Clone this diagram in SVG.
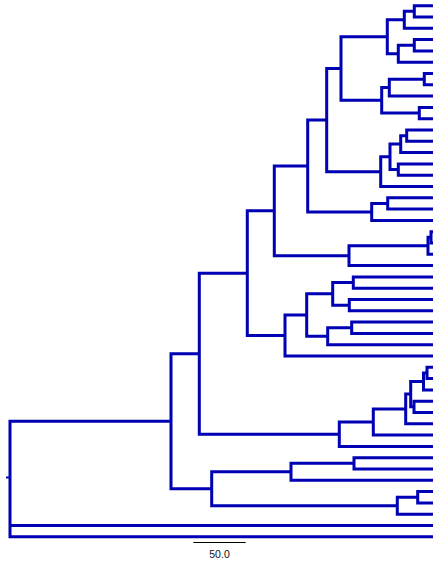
<svg xmlns="http://www.w3.org/2000/svg" width="439" height="567" viewBox="0 0 439 567">
<style>
.b{fill:none;stroke:#0000b4;stroke-width:3;stroke-linejoin:miter}
.s{stroke:#000;stroke-width:1;fill:none}
.t{font-family:"Liberation Sans",Arial,sans-serif;font-size:10.5px;fill:#111}
</style>
<rect width="439" height="567" fill="#fff"/>
<g id="connectors">
<path class="b" d="M433,5.7H414.3V17H433"/>
<path class="b" d="M414.3,11.35H404.3V28.3H433"/>
<path class="b" d="M433,39.6H414.3V50.9H433"/>
<path class="b" d="M414.3,45.25H398.3V62.2H433"/>
<path class="b" d="M404.3,19.8H387.3V53.7H398.3"/>
<path class="b" d="M433,73.5H424.3V84.8H433"/>
<path class="b" d="M424.3,79.15H389.3V96.1H433"/>
<path class="b" d="M433,107.4H419.3V118.7H433"/>
<path class="b" d="M389.3,87.6H381.7V113.05H419.3"/>
<path class="b" d="M387.3,36.75H341V100.3H381.7"/>
<path class="b" d="M433,130H406.7V141.3H433"/>
<path class="b" d="M406.7,135.65H400.7V152.6H433"/>
<path class="b" d="M433,163.9H398.3V175.2H433"/>
<path class="b" d="M400.7,144.1H390V169.55H398.3"/>
<path class="b" d="M390,156.8H380.7V186.5H433"/>
<path class="b" d="M341,68.5H326.7V171.65H380.7"/>
<path class="b" d="M433,197.8H387.7V209.1H433"/>
<path class="b" d="M387.7,203.45H371.7V220.4H433"/>
<path class="b" d="M326.7,120.1H307.7V211.9H371.7"/>
<path class="b" d="M433,231.7H431V243H433"/>
<path class="b" d="M431,237.35H428V254.3H433"/>
<path class="b" d="M428,245.8H349V265.6H433"/>
<path class="b" d="M307.7,166H274.3V255.7H349"/>
<path class="b" d="M433,276.9H353.3V288.2H433"/>
<path class="b" d="M433,299.5H349.3V310.8H433"/>
<path class="b" d="M353.3,282.55H332.7V305.15H349.3"/>
<path class="b" d="M433,322.1H351.7V333.4H433"/>
<path class="b" d="M351.7,327.75H327.7V344.7H433"/>
<path class="b" d="M332.7,293.85H306.7V336.2H327.7"/>
<path class="b" d="M306.7,315H285V356H433"/>
<path class="b" d="M274.3,210.85H247.3V335.5H285"/>
<path class="b" d="M433,367.3H427V378.6H433"/>
<path class="b" d="M427,372.95H423.5V389.9H433"/>
<path class="b" d="M433,401.2H414V412.5H433"/>
<path class="b" d="M423.5,381.4H410.7V406.85H414"/>
<path class="b" d="M410.7,394.1H405.7V423.8H433"/>
<path class="b" d="M405.7,408.95H373.3V435.1H433"/>
<path class="b" d="M373.3,422H339.3V446.4H433"/>
<path class="b" d="M247.3,273.2H199.3V434.2H339.3"/>
<path class="b" d="M433,457.7H354V469H433"/>
<path class="b" d="M354,463.35H291V480.3H433"/>
<path class="b" d="M433,491.6H417.7V502.9H433"/>
<path class="b" d="M417.7,497.25H397.3V514.2H433"/>
<path class="b" d="M291,471.8H211.7V505.7H397.3"/>
<path class="b" d="M199.3,353.7H171V488.75H211.7"/>
<path class="b" d="M171,421.2H10V536.8H433"/>
<path class="b" d="M10,525.5H433"/>
<path d="M6,477.5H10" stroke="#0000b4" stroke-width="2"/>
</g>
<g id="scalebar">
<path class="s" d="M193.3,542.5H245.7"/>
<text class="t" x="219.5" y="558" text-anchor="middle">50.0</text>
</g>
</svg>
